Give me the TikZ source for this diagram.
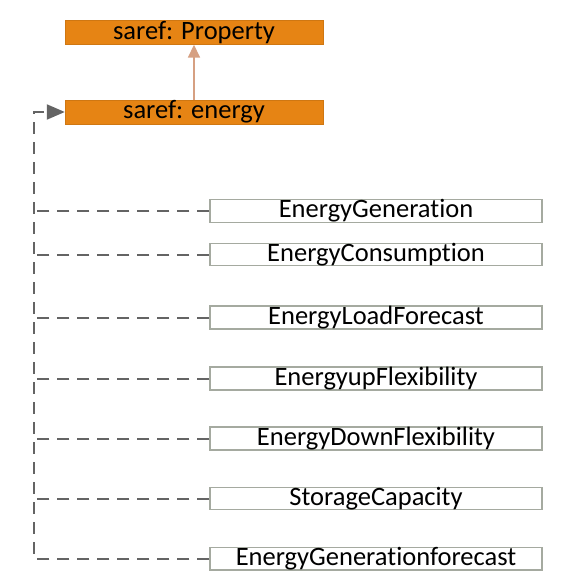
\documentclass[tikz,border=0pt]{standalone}
\usepackage{fontspec}
\setmainfont[Ligatures=NoCommon]{Carlito}
\usetikzlibrary{arrows.meta, positioning, calc}
\definecolor{sarefor}{RGB}{230,132,20}
\definecolor{subarr}{RGB}{214,160,130}
\definecolor{linkgray}{RGB}{100,100,100}
\definecolor{boxgray}{RGB}{165,170,160}

\begin{document}
\begin{tikzpicture}[x=1pt,y=-1pt,
  sbox/.style={draw=sarefor!90!black,fill=sarefor,minimum width=258pt,
    minimum height=24pt,inner sep=0pt,font=\fontsize{26.5}{27}\selectfont},
  cbox/.style={draw=boxgray,line width=1.2pt,fill=white,minimum width=332pt,
    minimum height=22pt,inner sep=0pt,font=\fontsize{26.5}{27}\selectfont},
  isa/.style={-{Triangle[length=13pt,width=12pt]},line width=1.6pt,draw=subarr},
  link/.style={line width=2pt,draw=linkgray,dash pattern=on 12pt off 8pt}]
  \useasboundingbox (0,0) rectangle (579,585);
  \node[sbox](prop) at (194,32.5){saref: Property};
  \node[sbox](energy) at (194,112){saref: energy};
  \coordinate(trunk) at (34,112);
  \node[cbox](gen) at (376,211){EnergyGeneration};
  \node[cbox](cons) at (376,254.5){EnergyConsumption};
  \node[cbox](load) at (376,317.5){EnergyLoadForecast};
  \node[cbox](upf) at (376,378.5){EnergyupFlexibility};
  \node[cbox](downf) at (376,438.5){EnergyDownFlexibility};
  \node[cbox](stor) at (376,498.5){StorageCapacity};
  \node[cbox](genf) at (376,558.5){EnergyGenerationforecast};
  \draw[isa](energy)--(prop);
  \draw[link,-{Triangle[length=18pt,width=15pt]}](genf.west)-|(trunk)--(energy.west);
  \foreach \c in {gen,cons,load,upf,downf,stor}
    \draw[link](\c.west)--(\c.west-|trunk);
\end{tikzpicture}
\end{document}
